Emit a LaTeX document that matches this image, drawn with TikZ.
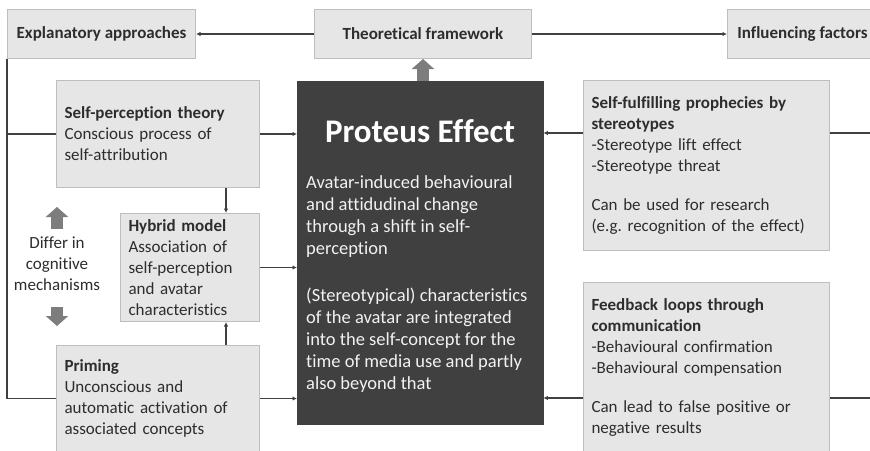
\documentclass[tikz,border=0pt]{standalone}
\usepackage{fontspec}
\setmainfont{Carlito}[Ligatures=CommonOff]
\usetikzlibrary{positioning,arrows.meta}

\definecolor{boxfill}{RGB}{231,230,230}
\definecolor{boxline}{RGB}{190,190,190}
\definecolor{darkfill}{RGB}{64,64,64}
\definecolor{linegray}{RGB}{64,64,64}
\definecolor{textgray}{RGB}{45,45,45}
\definecolor{blockgray}{RGB}{125,125,125}

\begin{document}
\frenchspacing
\begin{tikzpicture}
    [ x = 1pt, y = -1pt
    , box/.style =
      { draw=boxline, fill=boxfill, line width=1pt, anchor=north west
      , inner xsep=8pt, inner ysep=0pt, text=textgray
      , font=\fontsize{17}{21}\selectfont }
    , head/.style =
      { box, font=\fontsize{17}{21}\selectfont\bfseries, minimum height=49pt }
    , textbox/.style =
      { box, align=left }
    , conn/.style =
      { draw=linegray, line width=1.2pt }
    , arrow/.style =
      { conn, -{Latex[length=4.5pt,width=4.5pt]} }
    , blockarrow/.style =
      { draw=blockgray, line width=12pt, -{Triangle[width=22pt,length=10pt]} }
    ]
    \clip (0,0) rectangle (870,450);
    \fill [white] (0,0) rectangle (870,450);

    % top row
    \node [head, minimum width=188pt] (expl) at (7,9) {Explanatory approaches};
    \node [head, minimum width=217pt] (frame) at (314,9) {Theoretical framework};
    \node [head, minimum width=150pt] (infl) at (727,9) {Influencing factors};

    % central box
    \node [draw=darkfill, fill=darkfill, anchor=north west, minimum width=246pt,
           minimum height=343pt] (proteus) at (297,81) {};
    \node [text=white, font=\fontsize{33}{40}\selectfont\bfseries] (title)
          at (420,131) {Proteus Effect};
    \node [text=white!95!black, anchor=north west, align=left, inner sep=0pt,
           font=\fontsize{18.5}{22}\selectfont] (body) at (306,175)
          {Avatar-induced behavioural\\
           and attidudinal change\\
           through a shift in self-\\
           perception\\[25pt]
           (Stereotypical) characteristics\\
           of the avatar are integrated\\
           into the self-concept for the\\
           time of media use and partly\\
           also beyond that};

    % left column
    \node [textbox, minimum width=203pt, minimum height=107pt, text width=187pt]
          (spt) at (56,80)
          {\textbf{Self-perception theory}\\
           Conscious process of\\
           self-attribution};
    \node [textbox, minimum width=139pt, minimum height=108pt, text width=123pt]
          (hybrid) [below=25pt of spt.south east, anchor=north east]
          {\textbf{Hybrid model}\\
           Association of\\
           self-perception\\
           and avatar\\
           characteristics};
    \node [textbox, minimum width=203pt, minimum height=106pt, text width=187pt]
          (priming) at (56,345)
          {\textbf{Priming}\\
           Unconscious and\\
           automatic activation of\\
           associated concepts};
    \node [align=center, text=textgray, inner sep=1pt,
           font=\fontsize{17}{21}\selectfont] (differ) at (57,264)
          {Differ in\\ cognitive\\ mechanisms};

    % right column
    \node [textbox, minimum width=246pt, minimum height=170pt, text width=230pt]
          (sfp) at (583,80)
          {\textbf{Self-fulfilling prophecies by}\\
           \textbf{stereotypes}\\
           -Stereotype lift effect\\
           -Stereotype threat\\[18pt]
           Can be used for research\\
           (e.g. recognition of the effect)};
    \node [textbox, minimum width=246pt, minimum height=170pt, text width=230pt]
          (fb) [below=31pt of sfp.south west, anchor=north west]
          {\textbf{Feedback loops through}\\
           \textbf{communication}\\
           -Behavioural confirmation\\
           -Behavioural compensation\\[18pt]
           Can lead to false positive or\\
           negative results};

    \coordinate (rtop) at (870,133);
    \coordinate (rbot) at (870,398);
    \coordinate (uptip) at (57,207);
    \coordinate (uptail) at (57,229);
    \coordinate (downtail) at (57,307);
    \coordinate (downtip) at (57,326);

    % connectors
    \draw [arrow] (frame.west) -- (expl.east);
    \draw [arrow] (frame.east) -- (infl.west);
    \draw [blockarrow] (frame.south |- proteus.north) -- (frame.south);

    \draw [conn] (expl.south west) |- (priming.west);
    \draw [conn] (expl.south west |- spt.west) -- (spt.west);
    \draw [arrow] (spt.east) -- (spt.east -| proteus.west);
    \draw [arrow] (hybrid.east) -- (hybrid.east -| proteus.west);
    \draw [arrow] (priming.east) -- (priming.east -| proteus.west);
    \draw [arrow] (spt.south east) ++(-34pt,0) coordinate (sptdown)
          -- (sptdown |- hybrid.north);
    \draw [arrow] (sptdown |- priming.north) -- (sptdown |- hybrid.south);

    \draw [arrow] (sfp.west |- rtop) -- (proteus.east |- rtop);
    \draw [conn] (sfp.east |- rtop) -- (rtop);
    \draw [arrow] (fb.west |- rbot) -- (proteus.east |- rbot);
    \draw [conn] (fb.east |- rbot) -- (rbot);

    \draw [blockarrow] (uptail) -- (uptip);
    \draw [blockarrow] (downtail) -- (downtip);
\end{tikzpicture}
\end{document}
